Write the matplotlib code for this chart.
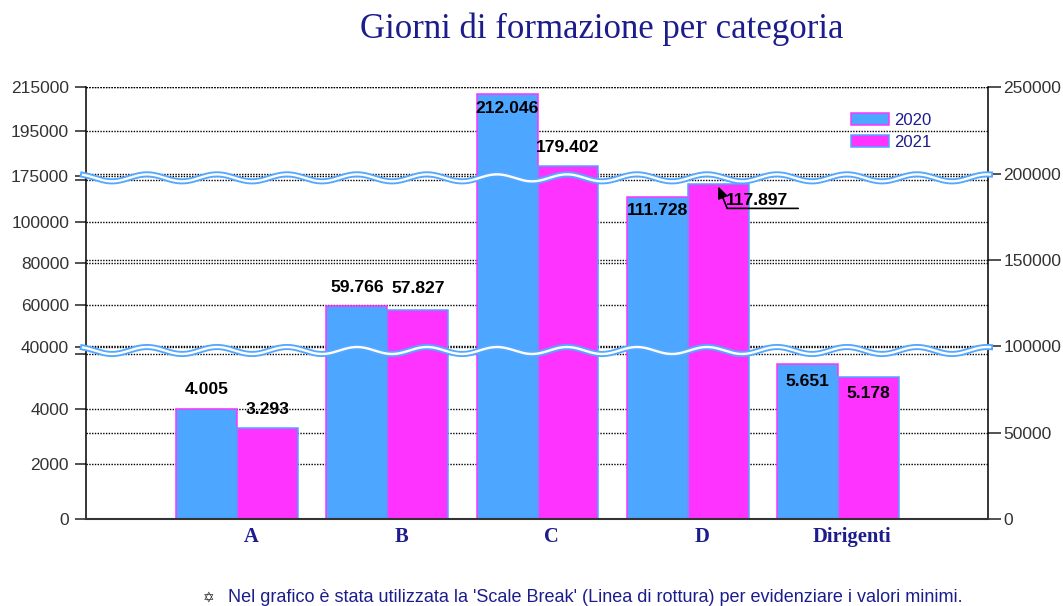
import numpy as np
import matplotlib
matplotlib.use("Agg")
import matplotlib.pyplot as plt
from matplotlib import transforms
from matplotlib.lines import Line2D

########
# Data #
########
categorie = ["A", "B", "C", "D", "Dirigenti"]
giorni_2020 = [4005, 59766, 212046, 111728, 5651]
giorni_2021 = [3293, 57827, 179402, 117897, 5178]

tick_sx = [0, 2000, 4000, 40000, 60000, 80000, 100000, 175000, 195000, 215000]
tick_rottura = [6000, 120000]          # bordi inferiori delle rotture
tick_dx = [0, 50000, 100000, 150000, 200000, 250000]

# scala con "Scale Break": valori -> altezza (px) sopra l'asse
val_nodi = [-1e7, 0, 6000, 40000, 120000, 175000, 215000, 1e8]
pos_nodi = [-1e7 * 0.0275, 0, 165, 172, 339, 343.3, 431.7,
            431.7 + (1e8 - 215000) * 0.00221]
rotture = [23000, 147500]              # centro delle linee ondulate


def avanti(v):
    return np.interp(np.asarray(v, float), val_nodi, pos_nodi)


def indietro(h):
    return np.interp(np.asarray(h, float), pos_nodi, val_nodi)


def fmt_it(v):
    return f"{v:,}".replace(",", ".")


BLU = "#4da6ff"
MAG = "#ff33ff"
NAVY = "#1c1c8c"

##########
# Figura #
##########
fig = plt.figure(figsize=(10.63, 6.06), dpi=100)
ax = fig.add_axes([86 / 1063, 87 / 606, 902 / 1063, 431.7 / 606])
ax2 = ax.twinx()
ax.set_zorder(2)
ax.patch.set_visible(False)

ax.set_yscale("function", functions=(avanti, indietro))
ax.set_ylim(0, 215000)
ax2.set_ylim(0, 250000)

x = np.arange(len(categorie))
w = 0.405
ax.bar(x - w / 2, giorni_2020, w, color=BLU, edgecolor=MAG, linewidth=1.1,
       label="2020", zorder=2)
ax.bar(x + w / 2, giorni_2021, w, color=MAG, edgecolor=BLU, linewidth=1.1,
       label="2021", zorder=2)
ax.set_xlim(-1.005, 4.998)

# assi e griglia
ax.set_yticks(tick_sx)
ax.set_yticks(tick_rottura, minor=True)
ax.set_yticklabels([str(t) for t in tick_sx])
ax2.set_yticks(tick_dx)
ax2.set_yticklabels([str(t) for t in tick_dx])
for a in (ax, ax2):
    a.yaxis.grid(True, which="both", linestyle=(0, (1, 1)), linewidth=1.0,
                 color="black")
    a.set_axisbelow(True)
    a.spines["top"].set_visible(False)
ax.spines["right"].set_visible(False)
ax2.spines["left"].set_visible(False)
ax2.spines["bottom"].set_visible(False)
ax.spines["left"].set_linewidth(1.1)
ax.spines["bottom"].set_linewidth(1.5)
ax.spines["bottom"].set_color("#333333")
ax2.spines["right"].set_linewidth(1.1)

ax.tick_params(axis="y", which="both", length=7.9, width=1.1, pad=4.3,
               labelsize=12.5, labelcolor="#333333", color="#222222")
ax2.tick_params(axis="y", length=9.4, width=1.1, pad=1.5, labelsize=12.5,
                labelcolor="#333333", color="#222222")
for lab in ax.get_yticklabels() + ax2.get_yticklabels():
    lab.set_fontfamily("Liberation Sans")

ax.set_xticks(x)
ax.set_xticklabels(categorie)
ax.tick_params(axis="x", length=0, pad=5.5)
sposta = transforms.ScaledTranslation(14 / 100, 0, fig.dpi_scale_trans)
for lab in ax.get_xticklabels():
    lab.set_fontfamily("Liberation Serif")
    lab.set_fontweight("bold")
    lab.set_fontsize(14.8)
    lab.set_color(NAVY)
    lab.set_transform(lab.get_transform() + sposta)

# etichette dei valori (offset in pixel)
off_2020 = [19, 18, -15, -13, -18]
off_2021 = [19, 21, 18, -16, -17]
dx_2021 = [0, 0, 0, 39, 0]
for i in range(len(categorie)):
    ax.annotate(fmt_it(giorni_2020[i]), (x[i] - w / 2, giorni_2020[i]),
                xytext=(0, off_2020[i] * 0.72), textcoords="offset points",
                ha="center", va="center", fontsize=12.6, fontweight="bold",
                family="Liberation Sans", zorder=5)
    ax.annotate(fmt_it(giorni_2021[i]), (x[i] + w / 2, giorni_2021[i]),
                xytext=(dx_2021[i] * 0.72, off_2021[i] * 0.72),
                textcoords="offset points", ha="center", va="center",
                fontsize=12.6, fontweight="bold", family="Liberation Sans",
                zorder=5)

# freccia per 117.897
xd, vd = x[3] + w / 2, giorni_2021[3]
ax.annotate("", xy=(xd, vd),
            xycoords=transforms.offset_copy(ax.transData, fig=fig, x=0, y=-2, units="dots"),
            xytext=(9 * 0.72, -22 * 0.72), textcoords="offset points",
            arrowprops=dict(arrowstyle="-|>,head_length=0.7,head_width=0.3",
                            lw=1.2, color="black", shrinkA=0, shrinkB=0))
ax.annotate("", xy=(xd, vd),
            xycoords=transforms.offset_copy(ax.transData, fig=fig, x=80, y=-24, units="dots"),
            xytext=(-71 * 0.72, 0), textcoords="offset points",
            arrowprops=dict(arrowstyle="-", lw=1.2, color="black",
                            shrinkA=0, shrinkB=0))

# legenda
leg = ax.legend(loc="upper left", bbox_to_anchor=(851 / 1063, 1 - 113 / 606),
                bbox_transform=fig.transFigure, frameon=False, fontsize=12,
                handlelength=2.28, handleheight=0.72, handletextpad=0.3,
                labelspacing=0.43, borderpad=0, borderaxespad=0)
for t in leg.get_texts():
    t.set_color(NAVY)
    t.set_fontfamily("Liberation Sans")

# linee di rottura ondulate
x0 = ax.transAxes.transform((0, 0))[0] - 3
x1 = ax.transAxes.transform((1, 0))[0] + 2
xs = np.linspace(x0, x1, 800)
for r in rotture:
    yd = ax.transData.transform((0, r))[1]
    ys = yd + 3.5 * np.cos(2 * np.pi * (xs - 147) / 70)
    fig.add_artist(Line2D(xs, ys, color="#55a8ff", lw=4.4, zorder=10,
                          transform=transforms.IdentityTransform()))
    fig.add_artist(Line2D(xs, ys, color="white", lw=1.7, zorder=11,
                          transform=transforms.IdentityTransform()))

# titolo e nota
fig.text(602 / 1063, 1 - 38 / 606, "Giorni di formazione per categoria",
         ha="center", va="baseline", fontsize=25, family="Liberation Serif",
         color=NAVY)
fig.text(209 / 1063, 1 - 598 / 606, "\u2721", ha="center", va="center",
         fontsize=10, family="DejaVu Sans", color="#333333")
fig.text(228 / 1063, 1 - 598 / 606,
         "Nel grafico è stata utilizzata la 'Scale Break' (Linea di rottura) "
         "per evidenziare i valori minimi.",
         ha="left", va="center", fontsize=13, family="Liberation Sans",
         color=NAVY)

fig.savefig("out.png", dpi=100)
